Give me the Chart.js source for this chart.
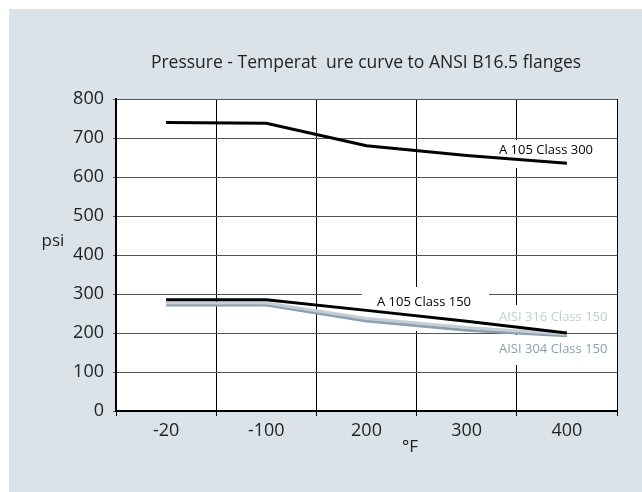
<!DOCTYPE html>
<html>
<head>
<meta charset="utf-8">
<script src="https://cdn.jsdelivr.net/npm/chart.js@4/dist/chart.umd.min.js"></script>
<style>
  html, body { margin: 0; padding: 0; background: #fff; }
  #wrap { width: 642px; height: 492px; }
</style>
</head>
<body>
<div id="wrap"><canvas id="ptChart" width="642" height="492"></canvas></div>
<script>
const temps = ['-20', '-100', '200', '300', '400'];
const a105Class300 = [740, 738, 680, 655, 635];
const a105Class150 = [285, 285, 258, 230, 200];
const aisi316Class150 = [277, 277, 237, 214, 197];
const aisi304Class150 = [272, 272, 231, 207, 193];
const psiTicks = [0, 100, 200, 300, 400, 500, 600, 700, 800];

const FONT = '"Open Sans", "DejaVu Sans", sans-serif';

// background panel, series names, title and axis names
const decor = {
  id: 'decor',
  beforeDraw(chart) {
    const { ctx, chartArea: a } = chart;
    ctx.save();
    ctx.fillStyle = '#fff';
    ctx.fillRect(0, 0, chart.width, chart.height);
    ctx.fillStyle = '#dce3e8';
    ctx.fillRect(9, 9, chart.width - 9, chart.height - 9);
    ctx.fillStyle = '#fff';
    ctx.fillRect(a.left, a.top, a.right - a.left, a.bottom - a.top);
    ctx.restore();
  },
  beforeDatasetsDraw(chart) {
    // gaps in the grid behind the series names
    const ctx = chart.ctx;
    ctx.save();
    ctx.fillStyle = '#fff';
    ctx.fillRect(512, 140, 8, 28);
    ctx.fillRect(512, 305, 8, 26);
    ctx.fillRect(512, 335, 8, 30);
    ctx.fillRect(362, 290, 127, 9);
    ctx.fillRect(413, 287, 8, 44);
    ctx.restore();
  },
  afterDraw(chart) {
    const ctx = chart.ctx;
    ctx.save();
    ctx.textBaseline = 'middle';
    ctx.font = '13px ' + FONT;
    ctx.textAlign = 'left';
    ctx.fillStyle = '#000';
    ctx.fillText('A 105 Class 300', 499, 150);
    ctx.fillText('A 105 Class 150', 377, 302);
    ctx.fillStyle = '#c3cdd5';
    ctx.fillText('AISI 316 Class 150', 499, 317);
    ctx.fillStyle = '#8c9fae';
    ctx.fillText('AISI 304 Class 150', 499, 349);

    ctx.fillStyle = '#222';
    ctx.textAlign = 'center';
    ctx.font = '17.5px ' + FONT;
    ctx.fillText('Pressure - Temperat  ure curve to ANSI B16.5 flanges', 366, 63);
    ctx.font = '17px ' + FONT;
    ctx.fillText('psi', 53, 241);
    ctx.fillText('°F', 410, 447);
    ctx.restore();
  }
};

const line = (data, color) => ({
  data: data,
  borderColor: color,
  backgroundColor: color,
  borderWidth: 3,
  pointRadius: 0,
  tension: 0,
  fill: false
});

new Chart(document.getElementById('ptChart'), {
  type: 'line',
  data: {
    labels: temps,
    datasets: [
      line(a105Class300, '#000'),
      line(a105Class150, '#000'),
      line(aisi316Class150, '#c3cdd5'),
      line(aisi304Class150, '#8c9fae')
    ]
  },
  options: {
    responsive: false,
    animation: false,
    layout: { padding: { top: 99, right: 25, left: 0, bottom: 0 } },
    plugins: {
      legend: { display: false },
      tooltip: { enabled: false },
      title: { display: false }
    },
    scales: {
      x: {
        offset: true,
        afterFit: (s) => { s.height = 81; },
        grid: { offset: true, color: '#000', lineWidth: 1, tickLength: 5 },
        border: { color: '#000', width: 2 },
        ticks: { color: '#222', font: { family: FONT, size: 18 }, padding: 4 }
      },
      y: {
        min: 0,
        max: 800,
        afterFit: (s) => { s.width = 116; },
        afterBuildTicks: (s) => { s.ticks = psiTicks.map(v => ({ value: v })); },
        grid: { color: '#555', lineWidth: 1, tickLength: 3 },
        border: { color: '#000', width: 2 },
        ticks: { color: '#222', font: { family: FONT, size: 18 }, padding: 9 }
      }
    }
  },
  plugins: [decor]
});
</script>
</body>
</html>
